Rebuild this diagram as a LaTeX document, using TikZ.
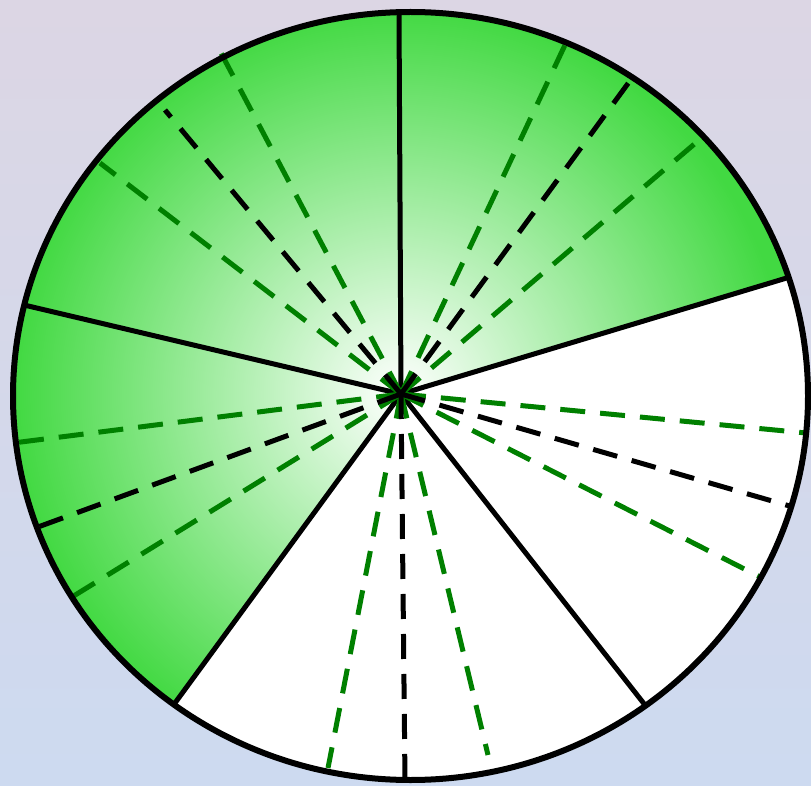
\documentclass[tikz,border=0pt]{standalone}
\usetikzlibrary{calc}
\definecolor{pgreen}{RGB}{66,217,66}
\definecolor{dgreen}{RGB}{0,128,0}
\definecolor{bgtop}{RGB}{220,214,228}
\definecolor{bgbot}{RGB}{205,218,240}
\pgfdeclareradialshading{pieglow}{\pgfpoint{0bp}{0bp}}{color(0bp)=(white); color(23bp)=(pgreen); color(50bp)=(pgreen)}
\begin{document}
\begin{tikzpicture}[x=1pt,y=-1pt,
  rimline/.style={line width=6pt},
  cutline/.style={line width=5pt},
  dashline/.style={line width=5pt, dash pattern=on 25pt off 15pt},
  kdash/.style={dashline, black},
  gdash/.style={dashline, dgreen}]
\useasboundingbox (0,0) rectangle (811,786);
\shade[top color=bgtop, bottom color=bgbot] (0,0) rectangle (811,786);
\coordinate (e) at (410.5,396);
\coordinate (c) at (401,394);
\coordinate (s1) at (399,12);
\coordinate (s2) at (790,277);
\coordinate (s3) at (645,705);
\coordinate (s4) at (175,703);
\coordinate (s5) at (24,305);
% dashed end points
\coordinate (g1) at (565,45);
\coordinate (k1) at (632,78);
\coordinate (g2) at (705,135);
\coordinate (g3) at (806,433);
\coordinate (k2) at (793,507);
\coordinate (g4) at (762,578);
\coordinate (g5) at (488,755);
\coordinate (k3) at (405,781);
\coordinate (g6) at (328,768);
\coordinate (g7) at (72,597);
\coordinate (k4) at (38,527);
\coordinate (g8) at (13,443);
\coordinate (g9) at (100,163);
\coordinate (k5) at (165,110);
\coordinate (g10) at (221,53);
% white disc
\fill[white] (e) ellipse [x radius=397.5pt, y radius=384pt];
% green sectors
\foreach \a/\b in {s5/s1, s1/s2, s4/s5}{
  \begin{scope}
    \clip (e) ellipse [x radius=397.5pt, y radius=384pt];
    \clip (c) -- ($(c)!2.5!(\a)$) -- ($(c)!2.5!(\b)$) -- cycle;
    \fill[shading=pieglow] (c) circle [radius=420pt];
  \end{scope}
}
% sector boundaries
\foreach \p in {s1,s2,s3,s4,s5}{
  \draw[cutline] (c) -- (\p);
}
% dashed lines
\foreach \p in {g1,g2,g3,g4,g5,g6,g7,g8,g9,g10}{
  \draw[gdash] (c) -- (\p);
}
\foreach \p in {k1,k2,k3,k4,k5}{
  \draw[kdash] (c) -- (\p);
}
% outline
\draw[rimline] (e) ellipse [x radius=397.5pt, y radius=384pt];
\end{tikzpicture}
\end{document}
